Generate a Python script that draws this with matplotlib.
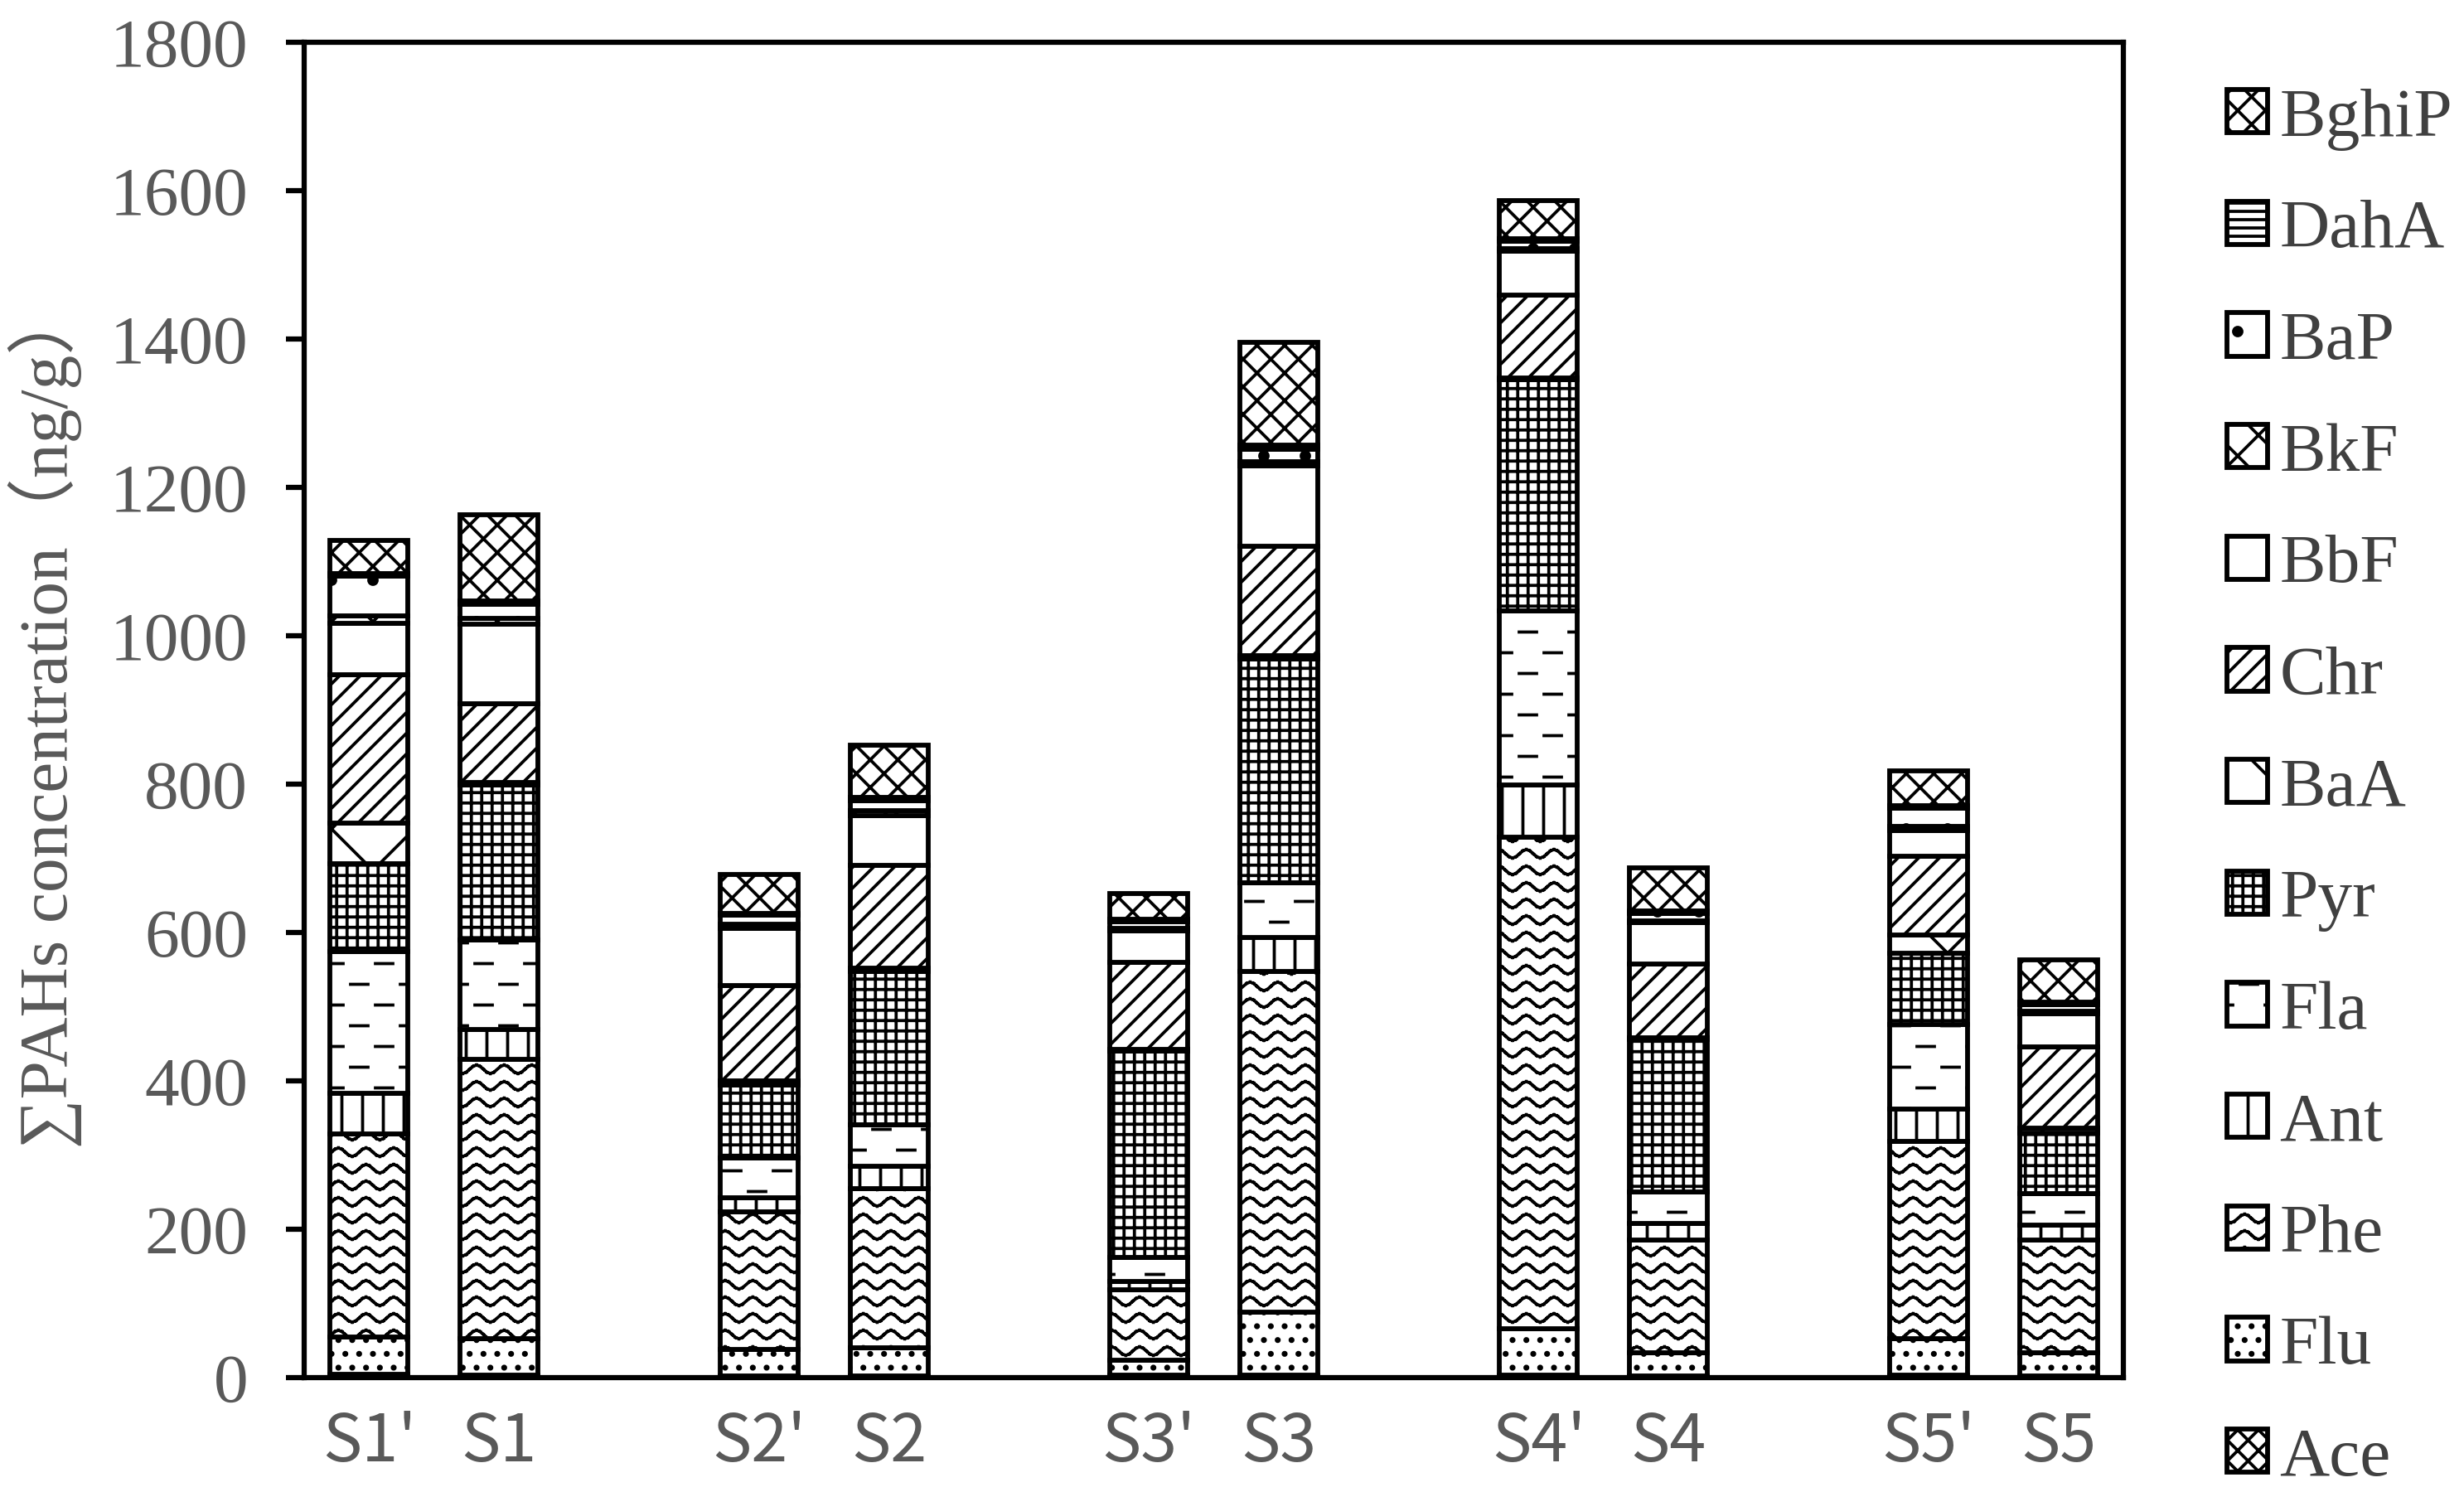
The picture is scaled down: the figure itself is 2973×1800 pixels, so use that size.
import numpy as np
import matplotlib
matplotlib.use("Agg")
import matplotlib.pyplot as plt
import matplotlib.hatch as mhatch
from matplotlib.path import Path

# ---------------- data ----------------
samples = ["S1'", "S1", "S2'", "S2", "S3'", "S3", "S4'", "S4", "S5'", "S5"]
compounds = ["Ace", "Flu", "Phe", "Ant", "Fla", "Pyr", "BaA", "Chr",
             "BbF", "BkF", "BaP", "DahA", "BghiP"]

Ace   = [5, 3, 2, 2, 3, 3, 3, 2, 3, 2]
Flu   = [50, 49, 36, 38, 20, 85, 63, 32, 50, 31]
Phe   = [273, 377, 185, 215, 95, 459, 662, 151, 265, 153]
Ant   = [55, 40, 20, 30, 12, 46, 71, 23, 44, 20]
Fla   = [191, 121, 53, 56, 32, 74, 234, 42, 114, 42]
Pyr   = [119, 209, 98, 206, 278, 302, 312, 206, 96, 82]
BaA   = [54, 3, 6, 5, 2, 4, 2, 2, 25, 6]
Chr   = [201, 106, 129, 139, 118, 148, 112, 100, 106, 110]
BbF   = [69, 108, 77, 67, 42, 108, 59, 55, 34, 44]
BkF   = [10, 8, 5, 6, 4, 6, 4, 3, 6, 4]
BaP   = [54, 18, 12, 14, 9, 16, 10, 10, 25, 9]
DahA  = [3, 5, 3, 4, 3, 6, 3, 3, 3, 3]
BghiP = [45, 116, 52, 70, 35, 139, 52, 58, 47, 57]

series = [Ace, Flu, Phe, Ant, Fla, Pyr, BaA, Chr, BbF, BkF, BaP, DahA, BghiP]
# category slots (blank slot between site pairs)
slots = [0, 1, 3, 4, 6, 7, 9, 10, 12, 13]
yticks = [0, 200, 400, 600, 800, 1000, 1200, 1400, 1600, 1800]

# ---------------- custom hatches ----------------
class WavyHatch(mhatch.HatchPatternBase):
    def __init__(self, hatch, density):
        n = hatch.count('*')
        self.num_lines = int(n * density * 2.5) if n else 0
        self.npts = 9 * 8 + 1
        self.num_vertices = self.num_lines * (self.npts - 1) * 2

    def set_vertices_and_codes(self, vertices, codes):
        if self.num_lines == 0:
            return
        x = np.linspace(0.0, 1.0, self.npts)
        amp = 0.017
        k = 0
        m = self.npts - 1
        for i in range(self.num_lines):
            s = (i + 0.5) / self.num_lines
            y = s + amp * np.sin(2 * np.pi * 9 * x)
            vertices[k:k + 2 * m:2, 0] = x[:-1]
            vertices[k:k + 2 * m:2, 1] = y[:-1]
            vertices[k + 1:k + 2 * m:2, 0] = x[1:]
            vertices[k + 1:k + 2 * m:2, 1] = y[1:]
            codes[k:k + 2 * m:2] = Path.MOVETO
            codes[k + 1:k + 2 * m:2] = Path.LINETO
            k += 2 * m


class DashHatch(mhatch.HatchPatternBase):
    def __init__(self, hatch, density):
        n = hatch.count('O')
        self.rows = int(n * density * 2) if n else 0
        self.per_row = 5 * n
        self.num_vertices = self.rows * self.per_row * 2

    def set_vertices_and_codes(self, vertices, codes):
        if self.rows == 0:
            return
        per = 1.0 / self.per_row
        L = 0.35 * per
        k = 0
        for r in range(self.rows):
            y = (r + 0.5) / self.rows
            off = 0.5 * per if r % 2 else 0.0
            for c in range(self.per_row):
                x0 = c * per + off + 0.05 * per
                vertices[k] = (x0, y)
                vertices[k + 1] = (x0 + L, y)
                codes[k] = Path.MOVETO
                codes[k + 1] = Path.LINETO
                k += 2


new_types = []
for t in mhatch._hatch_types:
    if t is mhatch.Stars:
        new_types.append(WavyHatch)
    elif t is mhatch.LargeCircles:
        new_types.append(DashHatch)
    else:
        new_types.append(t)
mhatch._hatch_types[:] = new_types

hatches = {
    "Ace": "xxxx", "Flu": "...", "Phe": "*", "Ant": "||", "Fla": "O",
    "Pyr": "++++", "BaA": "x", "Chr": "////", "BbF": None, "BkF": "xx",
    "BaP": ".", "DahA": "-----", "BghiP": "xxx",
}

plt.rcParams['hatch.linewidth'] = 0.9
plt.rcParams['hatch.color'] = 'black'

serif = ['Liberation Serif', 'DejaVu Serif', 'Noto Sans CJK SC']
gray = '#595959'

W, H = 2973, 1800
fig = plt.figure(figsize=(W / 300, H / 300), dpi=300)
ax = fig.add_axes([367 / W, 1 - 1662 / H, (2562 - 367) / W, (1662 - 51) / H])

bottom = np.zeros(len(samples))
handles = []
for name, vals in zip(compounds, series):
    vals = np.array(vals, dtype=float)
    bc = ax.bar(slots, vals, width=0.6, bottom=bottom, color='white',
                edgecolor='black', linewidth=1.4, hatch=hatches[name],
                label=name, zorder=2)
    handles.append(bc)
    bottom += vals

ax.set_xlim(-0.5, 13.5)
ax.set_ylim(0, 1800)
ax.set_yticks(yticks)
ax.set_yticklabels([str(v) for v in yticks], family=serif, fontsize=20, color=gray)
ax.set_xticks(slots)
ax.set_xticklabels(samples, family=['Noto Sans CJK SC', 'DejaVu Sans'],
                   fontsize=19, color=gray)
ax.tick_params(axis='x', length=0, pad=9)
ax.tick_params(axis='y', direction='out', length=5.3, width=1.5, pad=11, color='black')
for sp in ax.spines.values():
    sp.set_linewidth(1.5)
    sp.set_color('black')

ax.set_ylabel("∑PAHs concentration（ng/g）", family=['Liberation Serif', 'Noto Sans CJK SC', 'DejaVu Sans'],
              fontsize=20, color=gray)
ax.yaxis.set_label_coords(-0.122, 0.495)

leg = ax.legend(handles[::-1], compounds[::-1], loc='upper left',
                bbox_to_anchor=(2687 / W, 1 - 106 / H), bbox_transform=fig.transFigure,
                frameon=False, borderpad=0, borderaxespad=0,
                handlelength=0.59, handleheight=0.59, handletextpad=0.17,
                labelspacing=0.71, prop={'family': serif, 'size': 20},
                labelcolor='#404040')

fig.savefig("out.png", dpi=300)
